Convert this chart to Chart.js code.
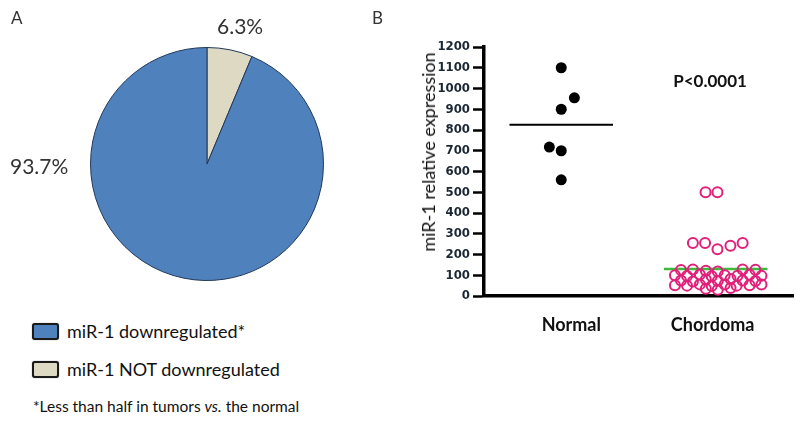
<!DOCTYPE html>
<html>
<head>
<meta charset="utf-8">
<script src="https://cdn.jsdelivr.net/npm/chart.js@4/dist/chart.umd.min.js"></script>
<style>
  html, body { margin: 0; padding: 0; background: #ffffff; }
  #wrap { position: relative; width: 800px; height: 422px; overflow: hidden; background: #fff; font-family: Lato, "Open Sans", sans-serif; color: #222; }
  .abs { position: absolute; white-space: nowrap; }
  .panel { font-size: 17px; color: #333; }
  .pct { font-size: 21px; color: #333; }
  .leg { font-size: 18px; color: #111; display: flex; align-items: center; }
  .leg .box { width: 23px; height: 13px; border: 2px solid #1a1a1a; border-radius: 3px; margin-right: 8px; box-shadow: 0 0 1px #555; }
  .foot { font-size: 15.5px; color: #111; }
  .ytitle { font-size: 18px; color: #111; transform: translate(-50%, -50%) rotate(-90deg); }
  .pval { font-size: 17px; font-weight: bold; color: #111; transform: translate(-50%, -50%); }
</style>
</head>
<body>
<div id="wrap">
  <canvas id="pie" class="abs" style="left:0;top:0;" width="400" height="300"></canvas>
  <canvas id="dot" class="abs" style="left:400px;top:30px;" width="400" height="320"></canvas>
</div>
<script>
// ---------------- data ----------------
const panelLetters = ['A', 'B'];
const pieLabels = ['miR-1 NOT downregulated', 'miR-1 downregulated*'];
const pieValues = [6.3, 93.7];
const pieColors = ['#ddd9c3', '#4f81bd'];
const footnote = ['*Less than half in tumors ', 'vs.', ' the normal'];

const groupNames = ['Normal', 'Chordoma'];
const normalValues = [1100, 955, 900, 718, 700, 560];
const normalJitter = [0, 0.085, 0, -0.077, 0, 0];
const chordomaValues = [
  500, 500, 255, 255, 225, 242, 255,
  125, 128, 122, 118, 128, 126,
  100, 96, 104, 95, 100, 98, 102, 97,
  75, 70, 80, 72, 82, 75, 72,
  52, 50, 56, 48, 55, 50, 52, 55,
  35, 30, 38
];
const chordomaJitter = [
  -0.066, 0.011, -0.148, -0.069, 0.011, 0.095, 0.174,
  -0.225, -0.148, -0.064, 0.013, 0.174, 0.257,
  -0.264, -0.186, -0.103, -0.026, 0.058, 0.141, 0.219, 0.296,
  -0.225, -0.148, -0.064, 0.013, 0.096, 0.174, 0.257,
  -0.264, -0.186, -0.103, -0.026, 0.058, 0.135, 0.219, 0.296,
  -0.064, 0.013, 0.096
];
const groupMeans = [825, 130];
const yTickValues = [0, 100, 200, 300, 400, 500, 600, 700, 800, 900, 1000, 1100, 1200];
const pValueText = 'P<0.0001';
const yAxisTitle = 'miR-1 relative expression';

// ---------------- html text ----------------
const wrap = document.getElementById('wrap');
function addText(cls, text, left, top) {
  const d = document.createElement('div');
  d.className = 'abs ' + cls;
  d.style.left = left + 'px';
  d.style.top = top + 'px';
  d.textContent = text;
  wrap.appendChild(d);
  return d;
}
addText('panel', panelLetters[0], 11, 7);
addText('panel', panelLetters[1], 372, 7);
addText('pct', pieValues[0] + '%', 217, 13);
addText('pct', pieValues[1] + '%', 10, 153);

// legend (blue first, then beige)
[1, 0].forEach((i, k) => {
  const d = addText('leg', '', 32, 320 + k * 38);
  const b = document.createElement('span');
  b.className = 'box';
  b.style.background = pieColors[i];
  d.appendChild(b);
  const t = document.createElement('span');
  t.textContent = pieLabels[i];
  d.appendChild(t);
});
const fn = addText('foot', '', 33, 397);
fn.append(footnote[0]);
const it = document.createElement('i');
it.textContent = footnote[1];
fn.append(it);
fn.append(footnote[2]);

addText('ytitle', yAxisTitle, 428, 152);
addText('pval', pValueText, 710, 80);

// ---------------- pie ----------------
new Chart(document.getElementById('pie'), {
  type: 'pie',
  data: {
    labels: pieLabels,
    datasets: [{
      data: pieValues,
      backgroundColor: pieColors,
      borderColor: '#22385a',
      borderWidth: 1
    }]
  },
  options: {
    responsive: false,
    animation: false,
    layout: { padding: { left: 90, right: 76, top: 47, bottom: 19 } },
    plugins: { legend: { display: false }, tooltip: { enabled: false } }
  }
});

// ---------------- dot plot ----------------
const labelPos = [1.065, 1.98];
const meanHalf = 0.335;
const pts = (vals, jit, center) => vals.map((v, i) => ({ x: center + jit[i], y: v }));

new Chart(document.getElementById('dot'), {
  type: 'scatter',
  data: {
    datasets: [
      {
        data: pts(normalValues, normalJitter, 1),
        pointRadius: 5.5,
        pointBackgroundColor: '#000',
        pointBorderWidth: 0,
        showLine: false
      },
      {
        data: pts(chordomaValues, chordomaJitter, 2),
        pointRadius: 5,
        pointBackgroundColor: 'rgba(0,0,0,0)',
        pointBorderColor: '#e1207a',
        pointBorderWidth: 2,
        showLine: false
      },
      {
        type: 'line',
        data: [{ x: 1 - meanHalf, y: groupMeans[0] }, { x: 1 + meanHalf, y: groupMeans[0] }],
        borderColor: '#000',
        borderWidth: 2,
        pointRadius: 0
      },
      {
        type: 'line',
        data: [{ x: 2 - meanHalf, y: groupMeans[1] }, { x: 2 + meanHalf, y: groupMeans[1] }],
        borderColor: '#3cba3c',
        borderWidth: 2.5,
        pointRadius: 0
      }
    ]
  },
  options: {
    responsive: false,
    animation: false,
    layout: { padding: { left: 0, top: 17, right: 5, bottom: 0 } },
    plugins: { legend: { display: false }, tooltip: { enabled: false } },
    scales: {
      x: {
        type: 'linear',
        min: 0.5,
        max: 2.5,
        afterFit: s => { s.height = 54; },
        afterBuildTicks: s => { s.ticks = labelPos.map(v => ({ value: v })); },
        border: { display: true, color: '#000', width: 3.5 },
        grid: { display: true, drawOnChartArea: false, drawTicks: false },
        ticks: {
          padding: 18,
          autoSkip: false,
          maxRotation: 0,
          color: '#111',
          font: { family: 'Lato, "Open Sans", sans-serif', size: 18, weight: 'bold' },
          callback: (v) => {
            const i = labelPos.findIndex(p => Math.abs(p - v) < 1e-6);
            return i >= 0 ? groupNames[i] : '';
          }
        }
      },
      y: {
        min: yTickValues[0],
        max: yTickValues[yTickValues.length - 1],
        afterFit: s => { s.width = 84; },
        afterBuildTicks: s => { s.ticks = yTickValues.map(v => ({ value: v })); },
        border: { display: true, color: '#000', width: 3.5 },
        grid: { display: true, drawOnChartArea: false, drawTicks: true, tickLength: 11, tickWidth: 2.5, tickColor: '#000' },
        ticks: {
          padding: 3,
          color: '#1a2633',
          callback: v => String(v),
          font: { family: '"Liberation Sans Narrow", "Arial Narrow", "DejaVu Sans Condensed", sans-serif', size: 13, weight: 'bold' }
        }
      }
    }
  }
});
</script>
</body>
</html>
